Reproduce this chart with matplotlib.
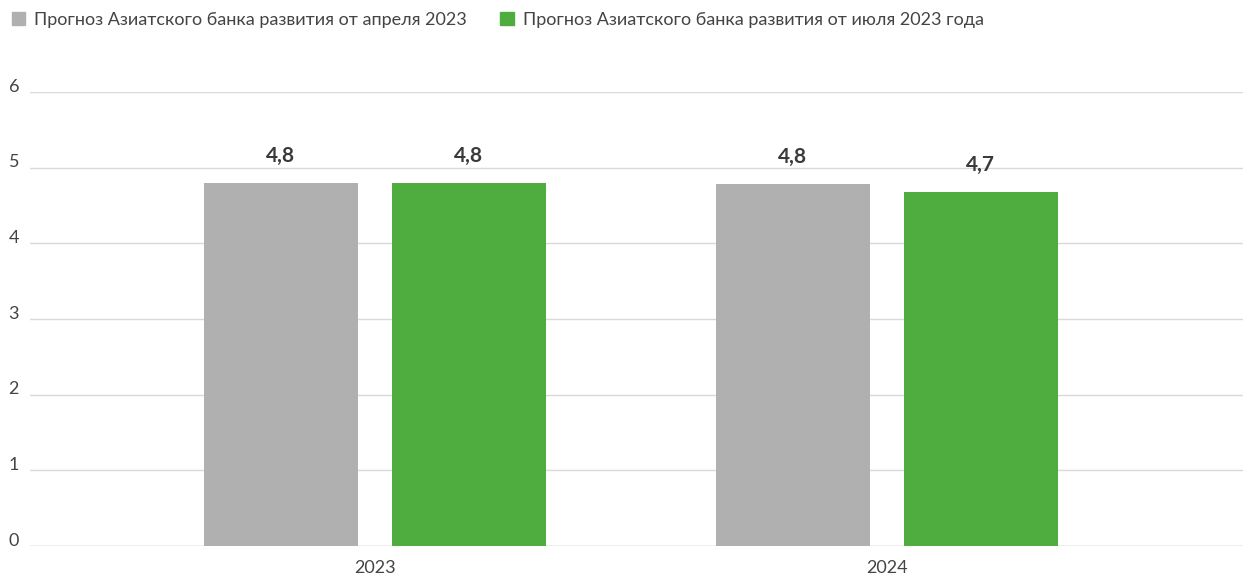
import matplotlib
matplotlib.use("Agg")
import matplotlib.pyplot as plt
import matplotlib.transforms as mtransforms
from matplotlib.patches import Patch
import numpy as np

plt.rcParams['font.family'] = ['Lato', 'DejaVu Sans']

categories = ["2023", "2024"]
series_names = ["Прогноз Азиатского банка развития от апреля 2023",
                "Прогноз Азиатского банка развития от июля 2023 года"]
april_values = [4.8, 4.79]
july_values = [4.8, 4.68]
yticks = [0, 1, 2, 3, 4, 5, 6]

gray = "#b0b0b0"
green = "#4fad3f"

fig = plt.figure(figsize=(12.43, 5.77), dpi=100)
ax = fig.add_axes([30/1243, 1-546/577, 1-30/1243, (546-92)/577])

x = np.arange(len(categories))
w = 0.30
off = 0.1836
b1 = ax.bar(x - off, april_values, w, color=gray, zorder=2)
b2 = ax.bar(x + off, july_values, w, color=green, zorder=2)

for bars, vals in ((b1, april_values), (b2, july_values)):
    for rect, v in zip(bars, vals):
        ax.annotate(f"{v:.1f}".replace(".", ","),
                    (rect.get_x() + rect.get_width()/2, rect.get_height()),
                    xytext=(0, 12), textcoords="offset points",
                    ha="center", va="bottom", fontsize=15, fontweight="bold",
                    color="#3a3a3a")

ax.set_ylim(0, 6)
ax.set_xlim(-0.674, 1.696)
ax.set_yticks(yticks)
ax.set_yticklabels([str(t) for t in yticks])
ax.set_xticks(x)
ax.set_xticklabels(categories)
ax.grid(axis="y", color="#d9d9d9", linewidth=1, zorder=0)
ax.set_axisbelow(True)
for s in ax.spines.values():
    s.set_visible(False)
ax.axhline(0, color="#cccccc", linewidth=1, zorder=1)
ax.tick_params(axis="both", length=0, labelsize=13, colors="#444444")
ax.tick_params(axis="y", pad=9)
ax.tick_params(axis="x", pad=10)
for lab in ax.get_yticklabels():
    lab.set_horizontalalignment("left")
    lab.set_transform(lab.get_transform() + mtransforms.ScaledTranslation(-0.09, 0.07, fig.dpi_scale_trans))

handles = [Patch(color=gray), Patch(color=green)]
fig.legend(handles, series_names, loc="upper left", bbox_to_anchor=(0.0, 1.0),
           ncol=2, frameon=False, fontsize=13, labelcolor="#444444",
           handlelength=0.75, handleheight=0.75, handletextpad=0.5,
           columnspacing=1.85, borderaxespad=0.25)

fig.savefig("out.png", dpi=100)
